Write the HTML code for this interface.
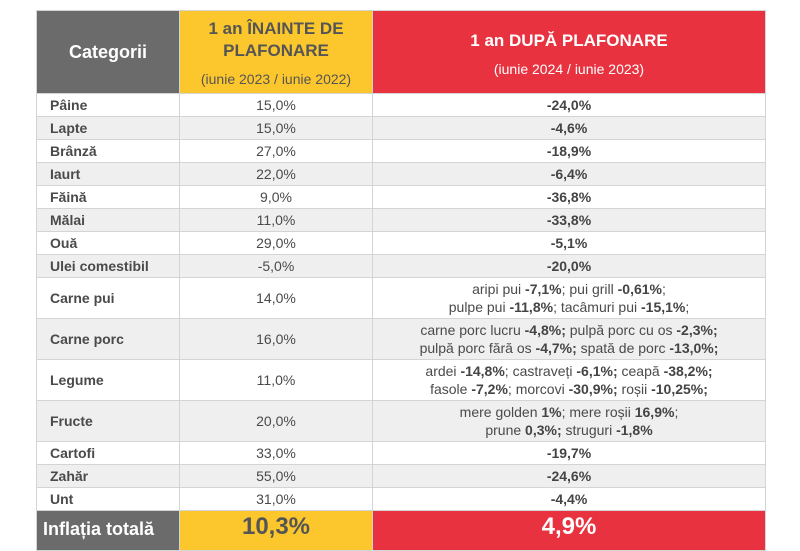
<!DOCTYPE html>
<html><head><meta charset="utf-8"><style>
body{margin:0;width:800px;height:534px;background:#fff;overflow:hidden;font-family:"Liberation Sans",sans-serif;color:#4a4a4a}
table{position:absolute;left:36px;top:10px;border-collapse:collapse;table-layout:fixed;width:729px}
td{border:1px solid #d4d4d4;padding:0;font-size:14px;text-align:center;line-height:18px}
td.c{text-align:left;padding-left:13px;font-weight:bold;font-size:14px}
tr.g td{background:#efefef}
tr.s td{height:22px}
tr.d td{height:40px}
.h1{background:#6b6b6b;color:#fff;font-size:18px;font-weight:bold;text-align:center;padding:0}
.h2{background:#fcc72c;color:#555;font-weight:bold;font-size:17px;line-height:22px;padding-top:3px}
.h3{background:#e8323f;color:#fff;font-weight:bold;font-size:17px;line-height:22px}
.sub{font-weight:normal;font-size:14px;display:block;margin-top:6px}
b{color:#444}
.t td{height:30px;font-size:24px;font-weight:bold;vertical-align:top}
</style></head><body>
<table>
<col style="width:143px"><col style="width:193px"><col style="width:393px">
<tr style="height:83px"><td class="h1">Categorii</td><td class="h2">1 an ÎNAINTE DE<br>PLAFONARE<span class="sub" style="color:#555">(iunie 2023 / iunie 2022)</span></td><td class="h3" style="vertical-align:top;padding-top:19px">1 an DUPĂ PLAFONARE<span class="sub" style="color:#fff">(iunie 2024 / iunie 2023)</span></td></tr>
<tr class="s"><td class="c">Pâine</td><td>15,0%</td><td><b>-24,0%</b></td></tr>
<tr class="s g"><td class="c">Lapte</td><td>15,0%</td><td><b>-4,6%</b></td></tr>
<tr class="s"><td class="c">Brânză</td><td>27,0%</td><td><b>-18,9%</b></td></tr>
<tr class="s g"><td class="c">Iaurt</td><td>22,0%</td><td><b>-6,4%</b></td></tr>
<tr class="s"><td class="c">Făină</td><td>9,0%</td><td><b>-36,8%</b></td></tr>
<tr class="s g"><td class="c">Mălai</td><td>11,0%</td><td><b>-33,8%</b></td></tr>
<tr class="s"><td class="c">Ouă</td><td>29,0%</td><td><b>-5,1%</b></td></tr>
<tr class="s g"><td class="c">Ulei comestibil</td><td>-5,0%</td><td><b>-20,0%</b></td></tr>
<tr class="d"><td class="c">Carne pui</td><td>14,0%</td><td>aripi pui <b>-7,1%</b>; pui grill <b>-0,61%</b>;<br>pulpe pui <b>-11,8%</b>; tacâmuri pui <b>-15,1%</b>;</td></tr>
<tr class="d g"><td class="c">Carne porc</td><td>16,0%</td><td>carne porc lucru <b>-4,8%;</b> pulpă porc cu os <b>-2,3%;</b><br>pulpă porc fără os <b>-4,7%;</b> spată de porc <b>-13,0%;</b></td></tr>
<tr class="d"><td class="c">Legume</td><td>11,0%</td><td>ardei <b>-14,8%</b>; castraveți <b>-6,1%;</b> ceapă <b>-38,2%;</b><br>fasole <b>-7,2%</b>; morcovi <b>-30,9%;</b> roșii <b>-10,25%;</b></td></tr>
<tr class="d g"><td class="c">Fructe</td><td>20,0%</td><td>mere golden <b>1%</b>; mere roșii <b>16,9%</b>;<br>prune <b>0,3%;</b> struguri <b>-1,8%</b></td></tr>
<tr class="s"><td class="c">Cartofi</td><td>33,0%</td><td><b>-19,7%</b></td></tr>
<tr class="s g"><td class="c">Zahăr</td><td>55,0%</td><td><b>-24,6%</b></td></tr>
<tr class="s"><td class="c">Unt</td><td>31,0%</td><td><b>-4,4%</b></td></tr>
<tr class="t"><td style="background:#6b6b6b;color:#fff;font-size:18px;text-align:left;padding-left:6px;padding-top:9px">Inflația totală</td><td style="background:#fcc72c;color:#555;padding-top:7px">10,3%</td><td style="background:#e8323f;color:#fff;padding-top:7px">4,9%</td></tr>
</table>
</body></html>
